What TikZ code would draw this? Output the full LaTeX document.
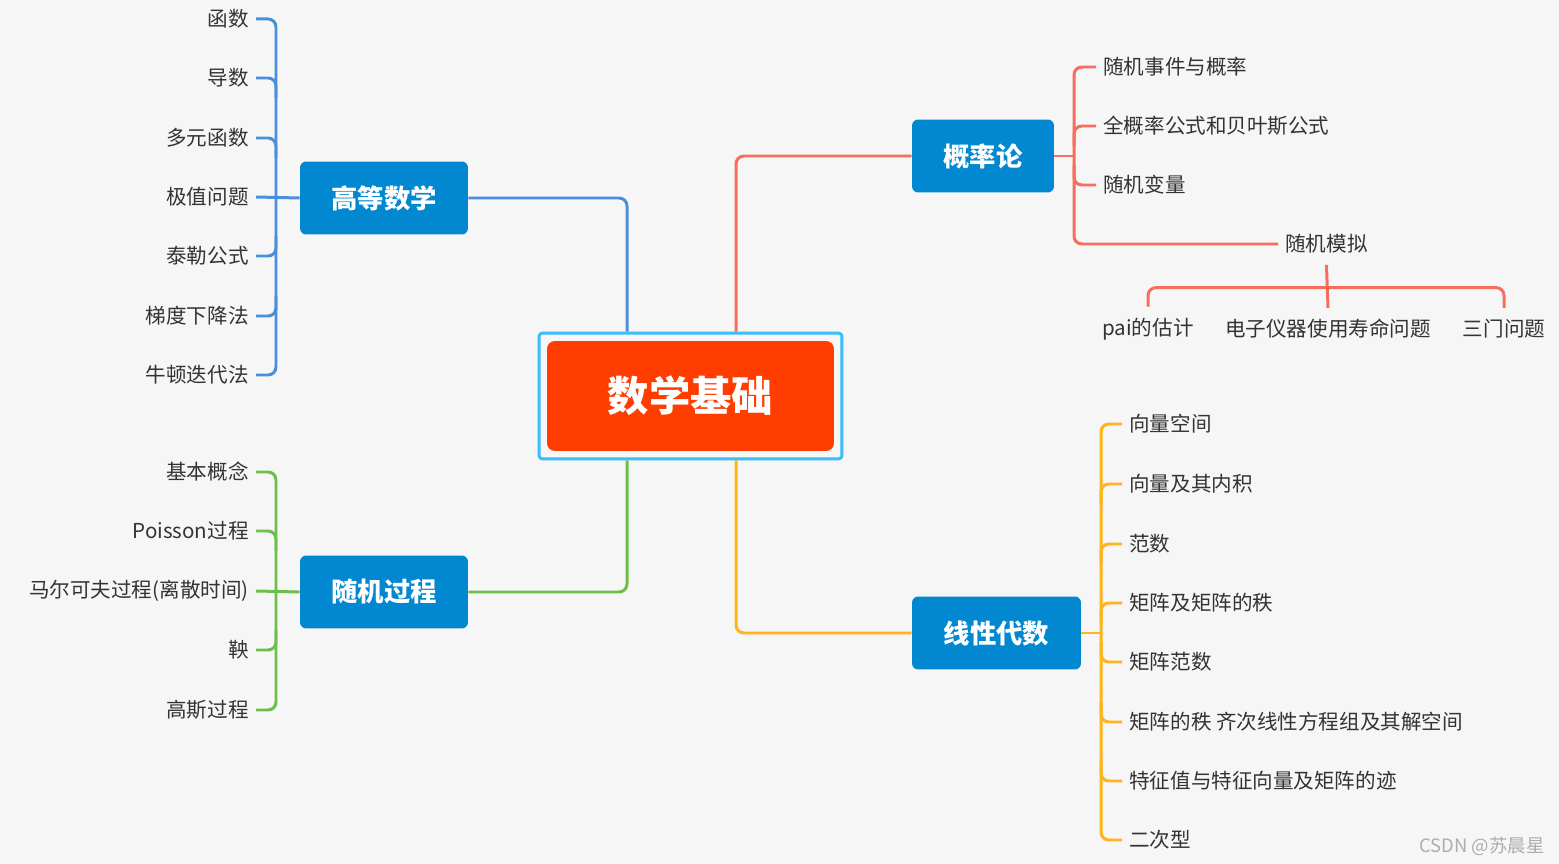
\documentclass[tikz,border=0pt]{standalone}
\usepackage{fontspec}
\setmainfont{Noto Sans CJK SC}
\usepackage{tikz}
\usetikzlibrary{positioning,calc}

\definecolor{bgcol}{HTML}{F6F6F6}
\definecolor{topicblue}{HTML}{0288D1}
\definecolor{rootred}{HTML}{FF3D00}
\definecolor{framecyan}{HTML}{3BBDF8}
\definecolor{mathcol}{HTML}{4A8FDB}
\definecolor{proccol}{HTML}{6CC04A}
\definecolor{probcol}{HTML}{F76D5E}
\definecolor{lincol}{HTML}{FFB41C}
\definecolor{leaftext}{HTML}{333333}

\begin{document}
\begin{tikzpicture}[x=0.02cm, y=-0.02cm,
  topic/.style={fill=topicblue, rounded corners=3.5pt, minimum height=1.46cm,
    text=white, font=\fontsize{15}{18}\selectfont\bfseries},
  leaf/.style={text=leaftext, inner sep=0pt, font=\fontsize{11.7}{14}\selectfont},
  link/.style={line width=1.7pt, rounded corners=4.5pt},
]

% Canvas
\fill[bgcol] (0,0) rectangle (1559,864);
\useasboundingbox (0,0) rectangle (1559,864);

% Root
\node[draw=framecyan, line width=1.7pt, rounded corners=2pt,
  minimum width=6.06cm, minimum height=2.52cm] (rootframe) at (690.5,396) {};
\node[fill=rootred, rounded corners=4.5pt, minimum width=5.74cm, minimum height=2.2cm,
  text=white, font=\fontsize{23.5}{28}\selectfont\bfseries] (root) at (690.5,396) {数学基础};

% Topics
\node[topic, minimum width=3.36cm] (hdbox) at (384,198) {高等数学};
\node[topic, minimum width=3.36cm] (sjbox) at (384,592) {随机过程};
\node[topic, minimum width=2.84cm] (glbox) at (983,156) {概率论};
\node[topic, minimum width=3.38cm] (xdbox) at (996.5,633) {线性代数};

% Topic links
\draw[link, mathcol] (hdbox.east) -| ($(rootframe.north)+(-63.5,0)$);
\draw[link, proccol] (sjbox.east) -| ($(rootframe.south)+(-63.5,0)$);
\draw[link, probcol] ($(rootframe.north)+(45.5,0)$) |- (glbox.west);
\draw[link, lincol] ($(rootframe.south)+(45.5,0)$) |- (xdbox.west);

% Leaves: advanced math
\foreach \name/\y/\txt in {f1/19/函数, f2/78/导数, f3/138/多元函数, f4/197/极值问题,
  f5/256/泰勒公式, f6/316/梯度下降法, f7/375/牛顿迭代法}
  \node[leaf, anchor=east] (\name) at (249,\y) {\txt};
\draw[link, mathcol] ([xshift=.14cm]f1.east) -- ++(20,0) |- ([xshift=.14cm]f7.east);
\draw[link, mathcol] (hdbox.west) -- ([xshift=.14cm]f4.east);
\foreach \n/\d in {f2/20, f3/20, f5/-20, f6/-20}
  \draw[link, mathcol] ([xshift=.14cm]\n.east) -- ++(20,0) -- ++(0,\d);

% Leaves: stochastic processes
\foreach \name/\y/\txt in {g1/472/基本概念, g2/531/Poisson过程, g3/591/马尔可夫过程(离散时间),
  g4/650/鞅, g5/710/高斯过程}
  \node[leaf, anchor=east] (\name) at (249,\y) {\txt};
\draw[link, proccol] ([xshift=.14cm]g1.east) -- ++(20,0) |- ([xshift=.14cm]g5.east);
\draw[link, proccol] (sjbox.west) -- ([xshift=.14cm]g3.east);
\foreach \n/\d in {g2/20, g4/-20}
  \draw[link, proccol] ([xshift=.14cm]\n.east) -- ++(20,0) -- ++(0,\d);

% Leaves: probability
\foreach \name/\y/\txt in {p1/67/随机事件与概率, p2/126/全概率公式和贝叶斯公式, p3/185/随机变量}
  \node[leaf, anchor=west] (\name) at (1103,\y) {\txt};
\node[leaf, anchor=west] (sim) at (1285,244) {随机模拟};
\draw[link, probcol] ([xshift=-.14cm]p1.west) -- ++(-22,0) |- ([xshift=-.14cm]sim.west);
\draw[link, probcol] (glbox.east) -- ++(20,0);
\draw[link, probcol] ([xshift=-.14cm]p2.west) -- ++(-22,0) -- ++(0,20);
\draw[link, probcol] ([xshift=-.14cm]p3.west) -- ++(-22,0) -- ++(0,-20);

% Simulation sub-topics
\node[leaf] (s1) at (1148,329) {pai的估计};
\node[leaf] (s2) at (1328,329) {电子仪器使用寿命问题};
\node[leaf] (s3) at (1504,329) {三门问题};
\draw[link, probcol] ([yshift=-.22cm]sim.south) -- ([yshift=.22cm]s2.north);
\draw[link, probcol] ([yshift=.22cm]s1.north) -- ++(0,-19) -| ([yshift=.22cm]s3.north);

% Leaves: linear algebra
\foreach \name/\y/\txt in {a1/424/向量空间, a2/484/向量及其内积, a3/544/范数, a4/603/矩阵及矩阵的秩,
  a5/662/矩阵范数, a6/722/矩阵的秩 齐次线性方程组及其解空间, a7/781/特征值与特征向量及矩阵的迹, a8/840/二次型}
  \node[leaf, anchor=west] (\name) at (1129,\y) {\txt};
\draw[link, lincol] ([xshift=-.14cm]a1.west) -- ++(-21,0) |- ([xshift=-.14cm]a8.west);
\draw[link, lincol] (xdbox.east) -- ++(20,0);
\foreach \n/\d in {a2/20, a3/20, a4/20, a5/-20, a6/-20, a7/-20}
  \draw[link, lincol] ([xshift=-.14cm]\n.west) -- ++(-21,0) -- ++(0,\d);

% Watermark
\node[text=black!32, inner sep=0pt, anchor=east, font=\fontsize{10.5}{12}\selectfont]
  (mark) at (1545,846) {CSDN @苏晨星};

\end{tikzpicture}
\end{document}
